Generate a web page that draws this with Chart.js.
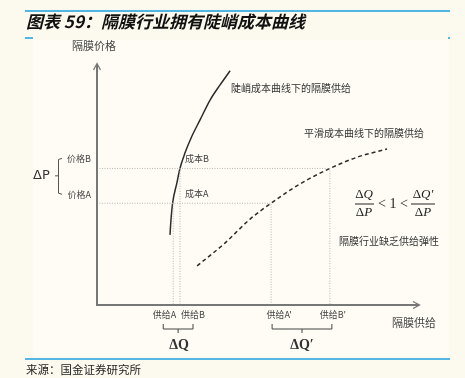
<!DOCTYPE html>
<html>
<head>
<meta charset="utf-8">
<script src="https://cdn.jsdelivr.net/npm/chart.js@4.4.1/dist/chart.umd.min.js"></script>
<style>
  html, body { margin: 0; padding: 0; background: #fcf9ee; }
  canvas { display: block; }
</style>
</head>
<body>
<canvas id="chart" width="465" height="378"></canvas>
<script>
// quantities on the x axis (supply), prices on the y axis, 0..100 scale
const qLabels = ['供给A', '供给B', "供给A'", "供给B'"];
const qValues = [23.6, 25.7, 53.9, 72.1];
const pLabels = ['价格A', '价格B'];
const pValues = [42.4, 56.9];

// steep cost curve
const steepX = [22.6, 22.9, 23.4, 24.7, 25.7, 27.2, 29.3, 31.9, 35.0, 38.1, 41.2];
const steepY = [29.2, 35.4, 42.4, 50.7, 57.0, 63.2, 70.1, 77.1, 85.4, 91.7, 97.6];

// smooth cost curve
const smoothX = [31.0, 39.6, 47.4, 53.9, 62.8, 72.1, 80.8, 89.8];
const smoothY = [16.3, 25.8, 35.8, 42.4, 50.4, 56.9, 61.7, 65.0];

const pts = (xs, ys) => xs.map((x, i) => ({ x: x, y: ys[i] }));

const guideStyle = {
  borderColor: '#b5b5b5',
  borderWidth: 1,
  borderDash: [1, 1.5],
  pointRadius: 0,
  showLine: true,
  tension: 0
};

const datasets = [];
// dotted guides: price -> smooth curve -> down; steep curve -> down
pValues.forEach((p, i) => {
  datasets.push(Object.assign({
    data: [{ x: 0, y: p }, { x: qValues[i + 2], y: p }, { x: qValues[i + 2], y: 0 }]
  }, guideStyle));
  datasets.push(Object.assign({
    data: [{ x: qValues[i], y: p }, { x: qValues[i], y: 0 }]
  }, guideStyle));
});

datasets.push({
  data: pts(steepX, steepY),
  borderColor: '#2b2b2b',
  borderWidth: 1.5,
  pointRadius: 0,
  showLine: true,
  cubicInterpolationMode: 'monotone'
});
datasets.push({
  data: pts(smoothX, smoothY),
  borderColor: '#2b2b2b',
  borderWidth: 1.5,
  borderDash: [4, 3],
  pointRadius: 0,
  showLine: true,
  cubicInterpolationMode: 'monotone'
});

const CJK = '"Noto Sans CJK SC", sans-serif';

function text(ctx, s, x, y, font, color, align) {
  ctx.font = font;
  ctx.fillStyle = color || '#333';
  ctx.textAlign = align || 'left';
  ctx.textBaseline = 'middle';
  ctx.fillText(s, x, y);
}

// Δ upright + italic letter, centred at cx
function deltaVar(ctx, letter, cx, cy) {
  ctx.textBaseline = 'middle';
  ctx.textAlign = 'left';
  ctx.fillStyle = '#222';
  ctx.font = '13px "Liberation Serif", serif';
  const w1 = ctx.measureText('Δ').width;
  ctx.font = 'italic 13px "Liberation Serif", serif';
  const w2 = ctx.measureText(letter).width;
  const x0 = cx - (w1 + w2) / 2;
  ctx.font = '13px "Liberation Serif", serif';
  ctx.fillText('Δ', x0, cy);
  ctx.font = 'italic 13px "Liberation Serif", serif';
  ctx.fillText(letter, x0 + w1, cy);
}

const decor = {
  id: 'decor',
  beforeDraw(chart) {
    const ctx = chart.ctx;
    ctx.save();
    ctx.fillStyle = '#fcf9ee';
    ctx.fillRect(0, 0, chart.width, chart.height);
    ctx.fillStyle = '#fefcf4';
    ctx.fillRect(33, 40, 416, 316);
    ctx.restore();
  },
  afterDatasetsDraw(chart) {
    const ctx = chart.ctx;
    const xs = chart.scales.x, ys = chart.scales.y;
    const x0 = xs.getPixelForValue(0), y0 = ys.getPixelForValue(0);
    ctx.save();

    // header / footer rules
    ctx.strokeStyle = '#1a9fe0';
    ctx.lineWidth = 1.5;
    ctx.beginPath(); ctx.moveTo(25, 11); ctx.lineTo(450, 11); ctx.stroke();
    ctx.beginPath(); ctx.moveTo(25, 38); ctx.lineTo(33, 38); ctx.stroke();
    ctx.beginPath(); ctx.moveTo(449, 37); ctx.lineTo(449, 39); ctx.stroke();
    ctx.strokeStyle = '#55b6e6';
    ctx.lineWidth = 2;
    ctx.beginPath(); ctx.moveTo(25, 359); ctx.lineTo(450, 359); ctx.stroke();

    text(ctx, '图表 59：隔膜行业拥有陡峭成本曲线', 26, 22, 'italic bold 17px ' + CJK, '#111');
    text(ctx, '来源：国金证券研究所', 26, 370, '11.5px ' + CJK, '#222');

    // axes with arrows
    ctx.strokeStyle = '#777';
    ctx.lineWidth = 2;
    ctx.beginPath();
    ctx.moveTo(x0, 64); ctx.lineTo(x0, y0); ctx.lineTo(419, y0);
    ctx.stroke();
    ctx.lineWidth = 1.3;
    ctx.beginPath();
    ctx.moveTo(x0 - 3.5, 70); ctx.lineTo(x0, 63.5); ctx.lineTo(x0 + 3.5, 70);
    ctx.moveTo(413, y0 - 3.5); ctx.lineTo(419.5, y0); ctx.lineTo(413, y0 + 3.5);
    ctx.stroke();

    text(ctx, '隔膜价格', 72, 46, '11px ' + CJK, '#444');
    text(ctx, '隔膜供给', 392, 323, '11px ' + CJK, '#444');

    // price labels and ΔP brace
    const pyA = ys.getPixelForValue(pValues[0]);
    const pyB = ys.getPixelForValue(pValues[1]);
    text(ctx, pLabels[1], 91, pyB - 10, '9px ' + CJK, '#444', 'right');
    text(ctx, pLabels[0], 91, pyA - 9, '9px ' + CJK, '#444', 'right');
    ctx.strokeStyle = '#555';
    ctx.lineWidth = 1;
    ctx.beginPath();
    ctx.moveTo(62, pyB - 10); ctx.lineTo(58.5, pyB - 9); ctx.lineTo(58.5, pyA - 10); ctx.lineTo(62, pyA - 9);
    ctx.moveTo(55, (pyA + pyB) / 2 - 10); ctx.lineTo(58.5, (pyA + pyB) / 2 - 10);
    ctx.stroke();
    text(ctx, 'ΔP', 33, (pyA + pyB) / 2 - 10, '13px "DejaVu Sans", sans-serif', '#333');

    // cost labels near the steep curve
    const qxB = xs.getPixelForValue(qValues[1]);
    text(ctx, '成本B', qxB + 5, pyB - 10, '9px ' + CJK, '#444');
    text(ctx, '成本A', qxB + 5, pyA - 10, '9px ' + CJK, '#444');

    // supply labels
    const qx = qValues.map(v => xs.getPixelForValue(v));
    text(ctx, qLabels[0], qx[0] + 3, 315, '9px ' + CJK, '#444', 'right');
    text(ctx, qLabels[1], qx[1] + 1, 315, '9px ' + CJK, '#444', 'left');
    text(ctx, qLabels[2], qx[2] + 8, 315, '9px ' + CJK, '#444', 'center');
    text(ctx, qLabels[3], qx[3] + 3, 315, '9px ' + CJK, '#444', 'center');

    // ΔQ braces
    ctx.strokeStyle = '#444';
    ctx.lineWidth = 1;
    const brace = (a, b) => {
      const m = (a + b) / 2;
      ctx.beginPath();
      ctx.moveTo(a, 324); ctx.lineTo(a, 329); ctx.lineTo(b, 329); ctx.lineTo(b, 324);
      ctx.moveTo(m, 329); ctx.lineTo(m, 333);
      ctx.stroke();
      return m;
    };
    const m1 = brace(qx[0] - 10, qx[1] + 13);
    const m2 = brace(qx[2] + 1, qx[3] + 2);
    text(ctx, 'ΔQ', m1 + 1, 345, 'bold 14px "Liberation Serif", serif', '#333', 'center');
    text(ctx, 'ΔQ′', m2, 345, 'bold 14px "Liberation Serif", serif', '#333', 'center');

    // curve annotations
    text(ctx, '陡峭成本曲线下的隔膜供给', 231, 88, '10px ' + CJK, '#333');
    text(ctx, '平滑成本曲线下的隔膜供给', 304, 133, '10px ' + CJK, '#333');
    text(ctx, '隔膜行业缺乏供给弹性', 339, 241, '10px ' + CJK, '#333');

    // elasticity formula
    deltaVar(ctx, 'Q', 364, 195);
    deltaVar(ctx, 'P', 364, 213);
    deltaVar(ctx, 'Q′', 423, 195);
    deltaVar(ctx, 'P', 423, 213);
    ctx.strokeStyle = '#222';
    ctx.lineWidth = 1;
    ctx.beginPath();
    ctx.moveTo(355, 204); ctx.lineTo(374, 204);
    ctx.moveTo(411, 204); ctx.lineTo(435, 204);
    ctx.stroke();
    text(ctx, '< 1 <', 393, 204, '14px "Liberation Serif", serif', '#222', 'center');

    ctx.restore();
  }
};

new Chart(document.getElementById('chart'), {
  type: 'scatter',
  data: { datasets: datasets },
  options: {
    responsive: false,
    animation: false,
    events: [],
    layout: { padding: { left: 97, right: 45, top: 65, bottom: 73 } },
    plugins: { legend: { display: false }, tooltip: { enabled: false } },
    scales: {
      x: { type: 'linear', min: 0, max: 100, display: false },
      y: { type: 'linear', min: 0, max: 100, display: false }
    }
  },
  plugins: [decor]
});
</script>
</body>
</html>
